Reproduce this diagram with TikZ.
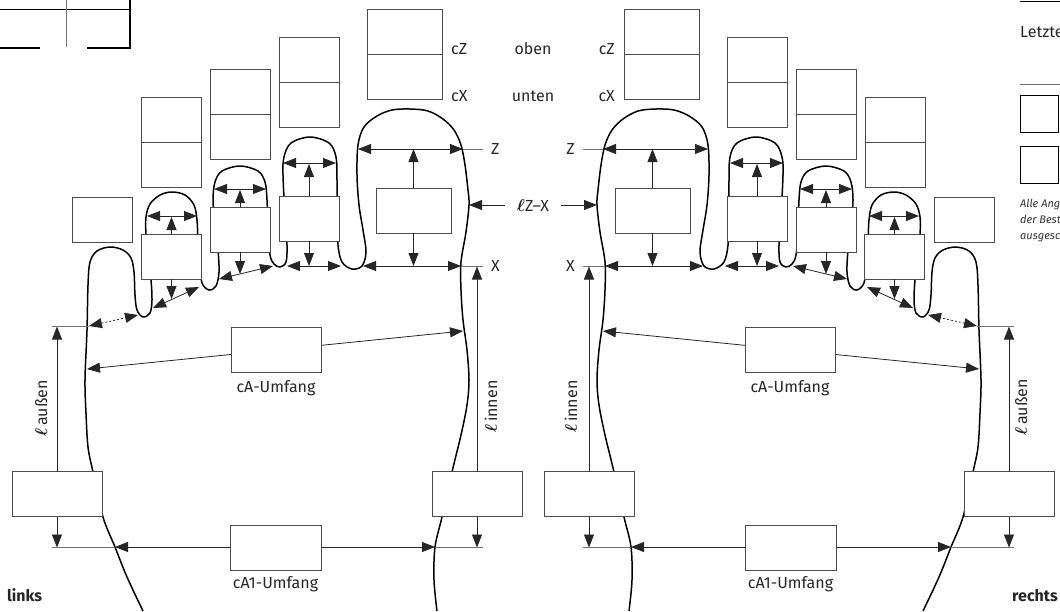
\documentclass[tikz,border=0pt]{standalone}
\usepackage{fontspec}
\setmainfont{Fira Sans}
\usetikzlibrary{arrows.meta,positioning}

% eine Hand, links gezeichnet; #1 = Praefix der Namen
\newcommand{\zeichnehand}[1]{%
  % Umriss der Hand
  \draw[umriss] plot[smooth, tension=0.55] coordinates {
    (143,611) (127,577) (115,547) (103,517) (93,472) (88,447) (86,413)
    (85,380) (87,330) (88,285) (90,262) (97,251) (110,247) (123,250)
    (131,258) (134,272) (135,295) (137,310) (143,317) (150,313) (152,300)
    (151,280) (148,255) (146,235) (146,217) (150,204) (160,195) (172,192)
    (185,195) (194,205) (197,220) (198,240) (200,265) (202,283) (209,290)
    (216,286) (219,272) (218,250) (215,225) (213,200) (215,182) (222,171)
    (240,166) (258,171) (265,182) (267,200) (268,230) (270,255) (274,264)
    (280,267) (286,262) (287,245) (285,215) (283,175) (284,157) (291,143)
    (310,137) (329,143) (336,157) (337,180) (337,215) (338,245) (342,262)
    (352,269) (362,266) (366,252) (363,230) (359,205) (357,175) (358,145)
    (364,127) (377,116) (392,110) (410,109) (428,111) (443,119) (454,130)
    (461,145) (465,165) (468,190) (469,205) (466,232) (461,262) (461,290)
    (463,320) (467,350) (469,380) (467,405) (461,435) (452,472) (442,517)
    (435,547) (434,580) (437,611)};
  % Maßlinien an den Fingerkuppen
  \draw[<->, mass] (147,216) -- (197,216);
  \draw[<->, mass] (214,189) -- (266,189);
  \draw[<->, mass] (283,163) -- (336,163);
  \draw[<->, mass] (358,149) coordinate (#1-Za) -- (463,149) coordinate (#1-Zb);
  \draw[hilfs] (#1-Zb) -- (483,149) coordinate (#1-Z);
  % Maßlinien am Fingeransatz
  \draw[<->, mass, dash pattern=on 2pt off 2pt] (89,326) -- (138,315);
  \draw[<->, mass] (153,308) -- (199,287);
  \draw[<->, mass] (219,279) -- (273,266);
  \draw[<->, mass] (287,266) -- (341,266);
  \draw[<->, mass] (363,266) -- (461,266) coordinate (#1-Xb);
  \draw[hilfs] (#1-Xb) -- (483,266) coordinate (#1-X);
  % Laenge Z-X am Daumen
  \draw[->, mass] (505,205) coordinate (#1-ZX) -- (469,205);
  % Umfang cA und cA1
  \draw[<->, mass] (87,369) -- (463,331);
  \draw[<->, mass] (115,547) -- (435,547);
  \draw[hilfs] (52,326) -- (89,326);
  \draw[hilfs] (52,547) -- (115,547);
  \draw[hilfs] (435,547) -- (483,547);
  % Kaesten oben (cZ / cX)
  \foreach \n/\px/\py/\w in {ring/171/97/60, mittel/240/69/60, zeige/309/37/60, daumen/404.5/9/75} {
    \node[kasten, minimum width=\w pt, anchor=north] (#1-\n-oben) at (\px,\py) {};
    \node[kasten, minimum width=\w pt, anchor=north] (#1-\n-unten) at (#1-\n-oben.south) {};
  }
  % Kaesten an den Fingern
  \node[kasten] (#1-klein) at (102,219.5) {};
  \node[kasten] (#1-ring) at (171.5,256.5) {};
  \node[kasten] (#1-mittel) at (240,229.5) {};
  \node[kasten] (#1-zeige) at (309,218.5) {};
  \node[kasten, minimum width=75pt] (#1-daumen) at (413.5,210.5) {};
  % Kaesten unten
  \node[kasten, minimum width=90pt] (#1-aussen) at (57,494) {};
  \node[kasten, minimum width=90pt] (#1-innen) at (477,494) {};
  \node[kasten, minimum width=90pt] (#1-cA) at (276,349.5) {};
  \node[kasten, minimum width=91pt] (#1-cA1) at (275.5,548) {};
  \node[beschr, below=8pt of #1-cA] (#1-cA-text) {cA-Umfang};
  \node[beschr, below=6pt of #1-cA1] (#1-cA1-text) {cA1-Umfang};
  % Pfeile von den Kaesten
  \draw[->, mass] (#1-ring.north) -- ++(0,-17);
  \draw[->, mass] (#1-mittel.north) -- ++(0,-17);
  \draw[->, mass] (#1-zeige.north) -- ++(0,-32);
  \draw[->, mass] (#1-daumen.north) -- (#1-daumen.north |- #1-Za);
  \draw[->, mass] (#1-ring.south) -- ++(0,20);
  \draw[->, mass] (#1-mittel.south) -- ++(0,22);
  \draw[->, mass] (#1-zeige.south) -- ++(0,25);
  \draw[->, mass] (#1-daumen.south) -- ++(0,33);
  \draw[->, mass] (#1-aussen.north) -- ++(0,-145);
  \draw[->, mass] (#1-aussen.south) -- ++(0,31);
  \draw[->, mass] (#1-innen.north) -- ++(0,-205);
  \draw[->, mass] (#1-innen.south) -- ++(0,31);
}

\begin{document}
\begin{tikzpicture}[x=1pt, y=-1pt, >={Triangle[length=13pt, width=10pt]},
  umriss/.style={line width=1.5pt, black, line join=round},
  mass/.style={draw=black!85, line width=0.8pt},
  hilfs/.style={draw=black!55, line width=0.8pt},
  kasten/.style={draw=black!70, line width=1pt, fill=white, inner sep=0pt,
    outer sep=0pt, minimum width=60pt, minimum height=45pt},
  beschr/.style={inner sep=0pt, text=black!85, font=\fontsize{16}{19}\selectfont},
  hinweis/.style={inner sep=0pt, text=black!80, font=\fontsize{11}{15}\selectfont\itshape}]

  \useasboundingbox (0,0) rectangle (1060,611);

  % Reste des Formulars oben links
  \draw[line width=0.8pt] (0,9) -- (130,9);
  \draw[black!55, line width=0.8pt] (66,0) -- (66,47);
  \draw[line width=2pt] (0,48) -- (40,48);
  \draw[line width=2pt] (87,48) -- (130,48) -- (130,0);

  % Reste des Formulars oben rechts
  \draw[line width=0.8pt] (1020,1) -- (1060,1);
  \node[beschr, anchor=base west] (letzte) at (1020,37) {Letzte};
  \draw[black!55, line width=0.8pt] (1020,84) -- (1060,84);
  \node[kasten, draw=black, minimum width=38pt, minimum height=37pt] (feld1) at (1039,113.5) {};
  \node[kasten, draw=black, minimum width=38pt, minimum height=37pt] (feld2) at (1039,164.5) {};
  \node[hinweis, anchor=base west] (hinweis1) at (1020,207) {Alle Ang};
  \node[hinweis, anchor=base west] (hinweis2) at (1020,223) {der Best};
  \node[hinweis, anchor=base west] (hinweis3) at (1020,239) {ausgesc};

  % linke Hand
  \zeichnehand{L}

  % rechte Hand (gespiegelt)
  \begin{scope}[xshift=1066pt, xscale=-1]
    \zeichnehand{R}
  \end{scope}

  % Beschriftungen in der Mitte
  \node[beschr, anchor=base] (oben) at (533,54) {oben};
  \node[beschr, anchor=base] (unten) at (533,101) {unten};
  \node[beschr, anchor=base west] (cZL) at (451,54) {cZ};
  \node[beschr, anchor=base west] (cXL) at (451,101) {cX};
  \node[beschr, anchor=base east] (cZR) at (615,54) {cZ};
  \node[beschr, anchor=base east] (cXR) at (615,101) {cX};
  \node[beschr, right=8pt of L-Z] (ZL) {Z};
  \node[beschr, left=8pt of R-Z] (ZR) {Z};
  \node[beschr, right=8pt of L-X] (XL) {X};
  \node[beschr, left=8pt of R-X] (XR) {X};
  \node[beschr, anchor=base] (ZX) at (533,211) {{\boldmath$\ell$}Z--X};

  % Laengen
  \node[beschr, rotate=90, anchor=base west] (aussenL) at (47,437) {{\boldmath$\ell$}\,außen};
  \node[beschr, rotate=90, anchor=base west] (innenL) at (497,433) {{\boldmath$\ell$}\,innen};
  \node[beschr, rotate=90, anchor=base west] (innenR) at (577,433) {{\boldmath$\ell$}\,innen};
  \node[beschr, rotate=90, anchor=base west] (aussenR) at (1027,436) {{\boldmath$\ell$}\,außen};

  % Seiten
  \node[beschr, font=\fontsize{16}{19}\selectfont\bfseries, anchor=base west] (links) at (7,601) {links};
  \node[beschr, font=\fontsize{16}{19}\selectfont\bfseries, anchor=base east] (rechts) at (1058,601) {rechts};

\end{tikzpicture}
\end{document}
